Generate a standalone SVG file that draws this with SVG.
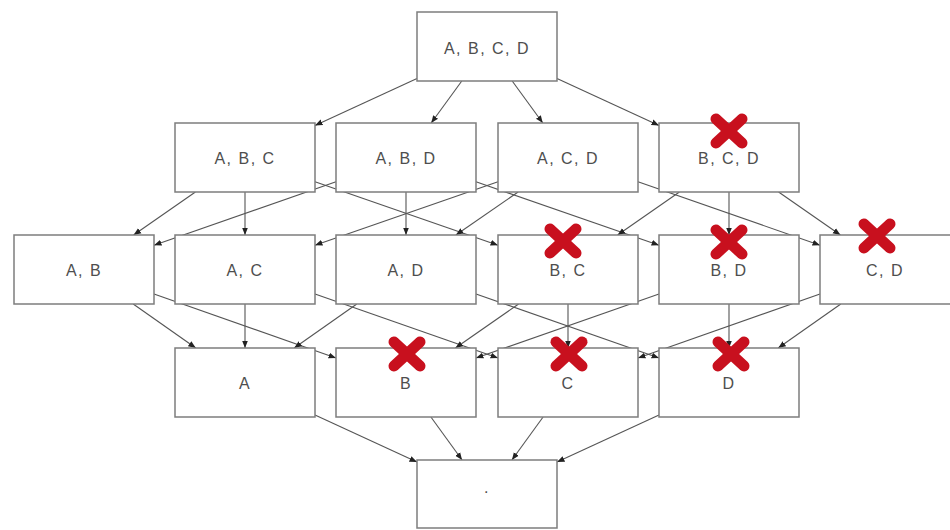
<svg xmlns="http://www.w3.org/2000/svg" width="950" height="530" viewBox="0 0 950 530">
  <defs>
    <style>
      .box { fill: #ffffff; stroke: #7d7d7d; stroke-width: 1.5; }
      .lbl { font-family: "Liberation Sans", Arial, sans-serif; font-size: 16px; letter-spacing: 1.5px; fill: #4e4e4e; text-anchor: middle; }
      .edge line { stroke: #555555; stroke-width: 1.1; fill: none; marker-end: url(#arrow); }
      .cross { stroke: #c8101e; stroke-width: 11; stroke-linecap: round; fill: none; }
    </style>
    <marker id="arrow" markerUnits="userSpaceOnUse" markerWidth="8" markerHeight="7" refX="7.5" refY="3.5" orient="auto">
      <path d="M0,0.5 L7.5,3.5 L0,6.5 z" fill="#222222"/>
    </marker>
    <g id="x-mark">
      <line x1="-13" y1="-12" x2="13" y2="12" class="cross"/>
      <line x1="-13" y1="12" x2="13" y2="-12" class="cross"/>
    </g>
  </defs>

  <rect width="950" height="530" fill="#ffffff"/>

  <!-- connectors: each set points to the subsets one element smaller -->
  <g id="connectors" class="edge">
    <!-- {A,B,C,D} to the 3-element sets -->
    <line x1="417" y1="78.6" x2="315" y2="125.4"/>
    <line x1="461.8" y1="81" x2="431.2" y2="123"/>
    <line x1="512.2" y1="81" x2="542.8" y2="123"/>
    <line x1="557" y1="78.6" x2="659" y2="125.4"/>

    <!-- 3-element sets to pairs -->
    <line x1="195.4" y1="192" x2="133.6" y2="235"/>
    <line x1="245" y1="192" x2="245" y2="235"/>
    <line x1="315" y1="181.8" x2="498" y2="245.2"/>

    <line x1="336" y1="181.8" x2="154" y2="245.2"/>
    <line x1="406" y1="192" x2="406" y2="235"/>
    <line x1="476" y1="181.8" x2="659" y2="245.2"/>

    <line x1="498" y1="181.8" x2="315" y2="245.2"/>
    <line x1="518.1" y1="192" x2="455.9" y2="235"/>
    <line x1="638" y1="181.8" x2="820" y2="245.2"/>

    <line x1="679.4" y1="192" x2="617.6" y2="235"/>
    <line x1="729" y1="192" x2="729" y2="235"/>
    <line x1="778.6" y1="192" x2="840.4" y2="235"/>

    <!-- pairs to singletons -->
    <line x1="133.2" y1="304" x2="195.8" y2="348"/>
    <line x1="154" y1="294" x2="336" y2="358"/>

    <line x1="245" y1="304" x2="245" y2="348"/>
    <line x1="315" y1="294" x2="498" y2="358"/>

    <line x1="356.8" y1="304" x2="294.2" y2="348"/>
    <line x1="476" y1="294" x2="659" y2="358"/>

    <line x1="518.6" y1="304" x2="455.4" y2="348"/>
    <line x1="568" y1="304" x2="568" y2="348"/>

    <line x1="659" y1="294" x2="476" y2="358"/>
    <line x1="729" y1="304" x2="729" y2="348"/>

    <line x1="820" y1="294" x2="638" y2="358"/>
    <line x1="840.8" y1="304" x2="778.2" y2="348"/>

    <!-- singletons to the empty set -->
    <line x1="315" y1="414.9" x2="417" y2="462.1"/>
    <line x1="430.9" y1="417" x2="462.1" y2="460"/>
    <line x1="543.1" y1="417" x2="511.9" y2="460"/>
    <line x1="659" y1="414.9" x2="557" y2="462.1"/>
  </g>

  <!-- level 4 -->
  <g id="node-abcd"><rect class="box" x="417" y="12" width="140" height="69"/><text class="lbl" x="487" y="53.5">A, B, C, D</text></g>

  <!-- level 3 -->
  <g id="node-abc"><rect class="box" x="175" y="123" width="140" height="69"/><text class="lbl" x="245" y="164">A, B, C</text></g>
  <g id="node-abd"><rect class="box" x="336" y="123" width="140" height="69"/><text class="lbl" x="406" y="164">A, B, D</text></g>
  <g id="node-acd"><rect class="box" x="498" y="123" width="140" height="69"/><text class="lbl" x="568" y="164">A, C, D</text></g>
  <g id="node-bcd"><rect class="box" x="659" y="123" width="140" height="69"/><text class="lbl" x="729" y="164">B, C, D</text><use href="#x-mark" x="729" y="131"/></g>

  <!-- level 2 -->
  <g id="node-ab"><rect class="box" x="14" y="235" width="140" height="69"/><text class="lbl" x="84" y="276">A, B</text></g>
  <g id="node-ac"><rect class="box" x="175" y="235" width="140" height="69"/><text class="lbl" x="245" y="276">A, C</text></g>
  <g id="node-ad"><rect class="box" x="336" y="235" width="140" height="69"/><text class="lbl" x="406" y="276">A, D</text></g>
  <g id="node-bc"><rect class="box" x="498" y="235" width="140" height="69"/><text class="lbl" x="568" y="276">B, C</text><use href="#x-mark" x="563" y="241"/></g>
  <g id="node-bd"><rect class="box" x="659" y="235" width="140" height="69"/><text class="lbl" x="729" y="276">B, D</text><use href="#x-mark" x="729" y="242"/></g>
  <g id="node-cd"><rect class="box" x="820" y="235" width="140" height="69"/><text class="lbl" x="885" y="276">C, D</text><use href="#x-mark" x="877" y="236"/></g>

  <!-- level 1 -->
  <g id="node-a"><rect class="box" x="175" y="348" width="140" height="69"/><text class="lbl" x="245" y="389">A</text></g>
  <g id="node-b"><rect class="box" x="336" y="348" width="140" height="69"/><text class="lbl" x="406" y="389">B</text><use href="#x-mark" x="407" y="354"/></g>
  <g id="node-c"><rect class="box" x="498" y="348" width="140" height="69"/><text class="lbl" x="568" y="389">C</text><use href="#x-mark" x="569" y="354"/></g>
  <g id="node-d"><rect class="box" x="659" y="348" width="140" height="69"/><text class="lbl" x="729" y="389">D</text><use href="#x-mark" x="731" y="354"/></g>

  <!-- level 0 -->
  <g id="node-empty"><rect class="box" x="417" y="460" width="140" height="68"/><text class="lbl" x="487" y="493" fill="#999999">.</text></g>
</svg>
